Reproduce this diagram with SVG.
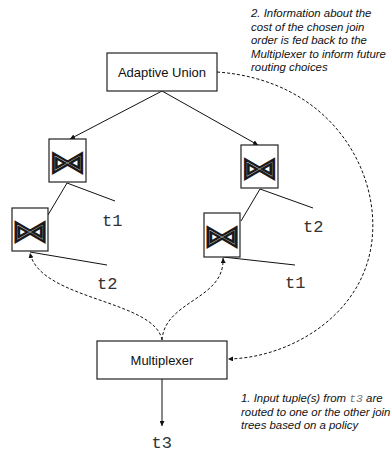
<svg xmlns="http://www.w3.org/2000/svg" width="392" height="452" viewBox="0 0 392 452">
<style>
.box{fill:#fff;stroke:#222;stroke-width:1.2}
.lbl{font-family:"Liberation Sans",Arial,sans-serif;font-size:13px;fill:#111;text-anchor:middle}
.join{font-family:"DejaVu Sans",sans-serif;font-size:38px;fill:#fff;stroke:#1a1a1a;stroke-width:2.8;text-anchor:middle}
.mono{font-family:"Liberation Mono","Courier New",monospace;font-size:17px;fill:#333}
.note{font-family:"Liberation Sans",Arial,sans-serif;font-size:11.4px;font-style:italic;fill:#111}
.ln{stroke:#111;stroke-width:1;fill:none}
.dash{stroke:#111;stroke-width:1;fill:none;stroke-dasharray:3,2}
</style>
<defs>
<marker id="ah" viewBox="0 0 10 10" refX="10" refY="5" markerWidth="5" markerHeight="5" orient="auto" markerUnits="userSpaceOnUse">
<path d="M0,0 L10,5 L0,10 z" fill="#111"/>
</marker>
</defs>
<g id="connectors">
<path class="ln" d="M162,91 L70,139" marker-end="url(#ah)"/>
<path class="ln" d="M162,91 L258,145" marker-end="url(#ah)"/>
<path class="ln" d="M67,183 L48,215"/>
<path class="ln" d="M67,183 L115,201"/>
<path class="ln" d="M30,252 L107,265"/>
<path class="ln" d="M260,189 L241,221"/>
<path class="ln" d="M260,189 L313,208"/>
<path class="ln" d="M223,257 L295,265"/>
<path class="ln" d="M162,379 L162,426" marker-end="url(#ah)"/>
<path class="dash" d="M162,340 C155,300 40,300 30,253" marker-end="url(#ah)"/>
<path class="dash" d="M162,340 C165,300 225,300 223,258" marker-end="url(#ah)"/>
<path class="dash" d="M217,72 C330,80 380,170 372,240 C364,315 290,358 228,359" marker-end="url(#ah)"/>
</g>
<g id="adaptive-union">
<rect class="box" x="107" y="53" width="110" height="38"/>
<text class="lbl" x="162" y="76.5">Adaptive Union</text>
</g>
<g id="join-left-top">
<rect class="box" x="49" y="139" width="37" height="43"/>
<text class="join" transform="translate(67.5,161) scale(0.95,0.75)" y="14">⋈</text>
</g>
<g id="join-left-bottom">
<rect class="box" x="12" y="208" width="36" height="43"/>
<text class="join" transform="translate(30,230) scale(0.95,0.75)" y="14">⋈</text>
</g>
<g id="join-right-top">
<rect class="box" x="241" y="145" width="37" height="43"/>
<text class="join" transform="translate(259.5,167) scale(0.95,0.75)" y="14">⋈</text>
</g>
<g id="join-right-bottom">
<rect class="box" x="204" y="213" width="36" height="44"/>
<text class="join" transform="translate(222,235.5) scale(0.95,0.75)" y="14">⋈</text>
</g>
<g id="multiplexer">
<rect class="box" x="97" y="341" width="130" height="38"/>
<text class="lbl" x="162" y="364.5">Multiplexer</text>
</g>
<g id="labels">
<text class="mono" x="102" y="226">t1</text>
<text class="mono" x="97" y="289">t2</text>
<text class="mono" x="303" y="232">t2</text>
<text class="mono" x="285" y="288">t1</text>
<text class="mono" x="151.5" y="448">t3</text>
</g>
<g id="note-2">
<text class="note" x="251" y="17">2. Information about the</text>
<text class="note" x="251" y="30.5">cost of the chosen join</text>
<text class="note" x="251" y="44">order is fed back to the</text>
<text class="note" x="251" y="57.5">Multiplexer to inform future</text>
<text class="note" x="251" y="71">routing choices</text>
</g>
<g id="note-1">
<text class="note" x="241" y="402">1. Input tuple(s) from <tspan font-family="Liberation Mono,monospace" font-style="italic" fill="#777">t3</tspan> are</text>
<text class="note" x="241" y="415.5">routed to one or the other join</text>
<text class="note" x="241" y="429">trees based on a policy</text>
</g>
</svg>
